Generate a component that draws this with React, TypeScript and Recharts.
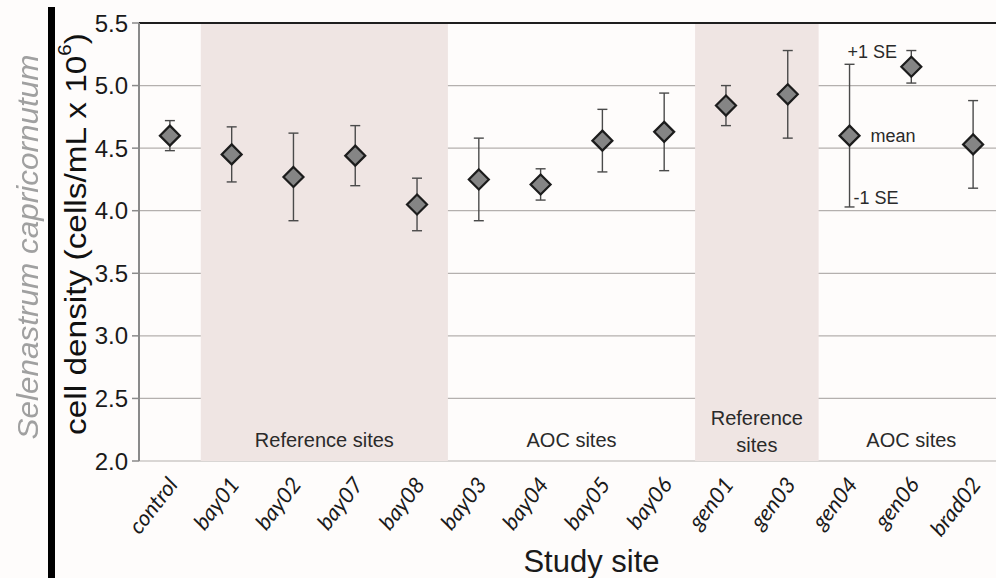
import React from 'react';
import {
  ComposedChart,
  Line,
  XAxis,
  YAxis,
  CartesianGrid,
  ErrorBar,
  ReferenceArea,
  ReferenceLine,
  ReferenceDot,
} from 'recharts';

// study sites, in plotting order
const sites = ['control', 'bay01', 'bay02', 'bay07', 'bay08', 'bay03', 'bay04', 'bay05', 'bay06', 'gen01', 'gen03', 'gen04', 'gen06', 'brad02'];
// mean cell density (cells/mL x 10^6)
const means = [4.6, 4.45, 4.27, 4.44, 4.05, 4.25, 4.21, 4.56, 4.63, 4.84, 4.93, 4.6, 5.15, 4.53];
// +/- 1 standard error
const stdErrs = [0.12, 0.22, 0.35, 0.24, 0.21, 0.33, 0.125, 0.25, 0.31, 0.16, 0.35, 0.57, 0.13, 0.35];
const yTicks = [2.0, 2.5, 3.0, 3.5, 4.0, 4.5, 5.0, 5.5];

// site groups drawn as bands behind the points
const groupFrom = ['bay01', 'bay03', 'gen01', 'gen04'];
const groupTo = ['bay08', 'bay06', 'gen03', 'brad02'];
const groupLabels = [['Reference sites'], ['AOC sites'], ['Reference', 'sites'], ['AOC sites']];
const groupShaded = [true, false, true, false];

// which site carries the key to the symbols
const keySite = 'gen04';

const data = sites.map((site, i) => ({ site, x: i + 0.5, mean: means[i], se: stdErrs[i] }));
const siteTicks = data.map((d) => d.x);
const boundaryTicks = sites.map((_, i) => i).concat(sites.length);

const FONT = '"Liberation Sans", Arial, sans-serif';

const Diamond = (props: any) => {
  const { cx, cy } = props;
  if (cx == null || cy == null) return null;
  const r = 10;
  return (
    <path
      d={`M${cx},${cy - r}L${cx + r},${cy}L${cx},${cy + r}L${cx - r},${cy}Z`}
      fill="#858585"
      stroke="#1c1c1c"
      strokeWidth={2.2}
    />
  );
};

const SiteTick = (props: any) => {
  const { x, y, payload } = props;
  const name = sites[Math.floor(payload.value)];
  return (
    <g transform={`translate(${x + 9},${y + 24})`}>
      <text
        x={0}
        y={0}
        textAnchor="end"
        transform="rotate(-52)"
        fontFamily="Lato, sans-serif"
        fontStyle="italic"
        fontSize={22}
        fill="#1a1a1a"
      >
        {name}
      </text>
    </g>
  );
};

const groupLabel = (lines: string[]) => (props: any) => {
  const { viewBox } = props;
  const cx = viewBox.x + viewBox.width / 2;
  const bottom = viewBox.y + viewBox.height;
  const last = lines.length > 1 ? bottom - 9 : bottom - 14;
  return (
    <text textAnchor="middle" fontFamily={FONT} fontSize={20} fill="#2a2a2a">
      {lines.map((l, i) => (
        <tspan key={i} x={cx} y={last - (lines.length - 1 - i) * 27}>
          {l}
        </tspan>
      ))}
    </text>
  );
};

const keyText = (text: string, dx: number, dy: number) => (props: any) => {
  const { viewBox } = props;
  const cx = viewBox.x + viewBox.width / 2;
  const cy = viewBox.y + viewBox.height / 2;
  return (
    <text x={cx + dx} y={cy + dy} fontFamily={FONT} fontSize={18} fill="#2a2a2a">
      {text}
    </text>
  );
};

export default function App() {
  const keyIdx = sites.indexOf(keySite);
  const key = data[keyIdx];
  return (
    <div
      style={{
        position: 'absolute',
        left: 0,
        top: 0,
        width: 996,
        height: 578,
        overflow: 'hidden',
        background: '#fefcfb',
      }}
    >
      {/* axis titles */}
      <svg width={130} height={578} style={{ position: 'absolute', left: 0, top: 0 }}>
        <text
          x={28}
          y={247}
          transform="rotate(-90, 28, 247)"
          textAnchor="middle"
          dominantBaseline="central"
          fontFamily={FONT}
          fontStyle="italic"
          fontSize={29}
          textLength={385}
          lengthAdjust="spacingAndGlyphs"
          fill="#a0a0a0"
          style={{ filter: 'blur(0.7px)' }}
        >
          Selenastrum capricornutum
        </text>
        <text
          x={76}
          y={234}
          transform="rotate(-90, 76, 234)"
          textAnchor="middle"
          dominantBaseline="central"
          fontFamily={FONT}
          fontSize={29}
          textLength={402}
          lengthAdjust="spacingAndGlyphs"
          fill="#111"
        >
          cell density (cells/mL x 10
          <tspan fontSize={18} dy={-11}>6</tspan>
          <tspan dy={11}>)</tspan>
        </text>
      </svg>
      <div style={{ position: 'absolute', left: 48, top: 7, width: 7, height: 571, background: '#000' }} />

      <div style={{ position: 'absolute', left: 0, top: 0 }}>
        <ComposedChart width={1012} height={578} data={data} margin={{ top: 23, right: 8, bottom: 0, left: 0 }}>
          {groupFrom.map((from, i) => (
            <ReferenceArea
              key={`g${i}`}
              x1={sites.indexOf(from)}
              x2={sites.indexOf(groupTo[i]) + 1}
              y1={2}
              y2={5.5}
              fill={groupShaded[i] ? '#efe5e3' : 'none'}
              fillOpacity={1}
              stroke="none"
              label={{ content: groupLabel(groupLabels[i]) }}
              ifOverflow="visible"
            />
          ))}
          <CartesianGrid vertical={false} stroke="#b4b0ae" strokeWidth={1.2} />
          <XAxis
            xAxisId="marks"
            type="number"
            domain={[0, sites.length]}
            ticks={boundaryTicks}
            tick={false}
            tickLine={{ stroke: '#8a8a8a', strokeWidth: 1.5 }}
            tickSize={7}
            axisLine={{ stroke: '#9a9a9a', strokeWidth: 1.5 }}
            height={0}
          />
          <XAxis
            dataKey="x"
            type="number"
            domain={[0, sites.length]}
            ticks={siteTicks}
            tick={<SiteTick />}
            tickLine={false}
            axisLine={false}
            tickSize={0}
            tickMargin={0}
            height={117}
            interval={0}
            label={{
              value: 'Study site',
              position: 'insideBottom',
              offset: 6,
              style: { fontFamily: FONT, fontSize: 31, fill: '#1a1a1a' },
              dx: 20,
            }}
          />
          <YAxis
            type="number"
            domain={[2, 5.5]}
            ticks={yTicks}
            tickFormatter={(v: number) => v.toFixed(1)}
            width={139}
            tickSize={7}
            tickMargin={4}
            tick={{ fontFamily: FONT, fontSize: 24, fill: '#1a1a1a' }}
            tickLine={{ stroke: '#8a8a8a', strokeWidth: 1.5 }}
            axisLine={{ stroke: '#8a8a8a', strokeWidth: 2 }}
          />
          <ReferenceLine y={5.5} stroke="#1e1e1e" strokeWidth={2.2} />
          <Line
            dataKey="mean"
            stroke="none"
            dot={<Diamond />}
            activeDot={false}
            isAnimationActive={false}
          >
            <ErrorBar dataKey="se" width={5} stroke="#4a4a4a" strokeWidth={1.4} direction="y" />
          </Line>
          <ReferenceDot x={key.x} y={key.mean + key.se} r={0} fill="none" stroke="none" label={{ content: keyText('+1 SE', -2, -6) }} />
          <ReferenceDot x={key.x} y={key.mean} r={0} fill="none" stroke="none" label={{ content: keyText('mean', 21, 6) }} />
          <ReferenceDot x={key.x} y={key.mean - key.se} r={0} fill="none" stroke="none" label={{ content: keyText('-1 SE', 4, -3) }} />
        </ComposedChart>
      </div>
    </div>
  );
}
